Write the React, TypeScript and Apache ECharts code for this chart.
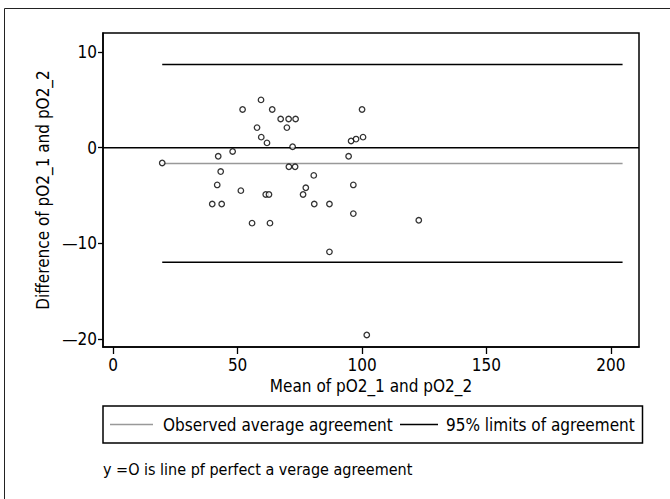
import React, { useEffect, useRef } from "react";
import * as echarts from "echarts";

// Bland-Altman data: mean of the two measurements and their difference
const meanValues = [
  19.7, 52.0, 59.4, 63.9, 67.3, 70.5, 73.3, 57.8, 69.8, 59.5,
  61.8, 72.1, 48.0, 42.2, 70.6, 73.1, 43.2, 80.6, 41.8, 77.4,
  51.3, 61.3, 62.6, 76.3, 39.8, 43.6, 80.8, 86.9, 55.8, 63.0,
  86.9, 100.0, 95.6, 97.6, 100.4, 94.6, 96.5, 96.5, 122.8, 101.9,
];
const diffValues = [
  -1.6, 4.0, 5.0, 4.0, 3.0, 3.0, 3.0, 2.1, 2.1, 1.1,
  0.5, 0.1, -0.4, -0.9, -2.0, -2.0, -2.5, -2.9, -3.9, -4.2,
  -4.5, -4.9, -4.9, -4.9, -5.9, -5.9, -5.9, -5.9, -7.9, -7.9,
  -10.9, 4.0, 0.7, 0.9, 1.1, -0.9, -3.9, -6.9, -7.6, -19.6,
];

const xTicks = [0, 50, 100, 150, 200];
const yTicks = [-20, -10, 0, 10];
const xRange = [-4.1, 211.3];
const yRange = [-20.86, 12.0];

const averageDiff = -1.65;
const upperLimit = 8.7;
const lowerLimit = -12.0;
const limitStart = 19.7;
const limitEnd = 204.7;

const xTitle = "Mean of pO2_1 and pO2_2";
const yTitle = "Difference of pO2_1 and pO2_2";
const legendLabels = ["Observed average agreement", "95% limits of agreement"];
const note = "y =O is line pf perfect a verage agreement";

const FONT = "'Liberation Sans Narrow', 'DejaVu Sans Condensed', 'Arial Narrow', sans-serif";
const FS = 17;

export default function App() {
  const ref = useRef<HTMLDivElement>(null);

  useEffect(() => {
    if (!ref.current) return;
    const chart = echarts.init(ref.current, null, { renderer: "svg" });
    const hLine = (name: string, y: number, x0: number, x1: number, color: string) => ({
      name,
      type: "line",
      data: [
        [x0, y],
        [x1, y],
      ],
      symbol: "none",
      silent: true,
      lineStyle: { color, width: 1.5 },
      z: 3,
    });
    chart.setOption({
      animation: false,
      backgroundColor: "#fff",
      textStyle: { fontFamily: FONT },
      grid: {
        left: 103,
        right: 31,
        top: 33,
        bottom: 152,
        show: true,
        borderColor: "#000",
        borderWidth: 1.5,
        containLabel: false,
      },
      xAxis: {
        type: "value",
        min: xRange[0],
        max: xRange[1],
        name: xTitle,
        nameLocation: "middle",
        nameGap: 26,
        nameTextStyle: { fontFamily: FONT, fontSize: FS, color: "#000" },
        axisLine: { show: true, onZero: false, lineStyle: { color: "#000", width: 1.5 } },
        axisTick: { show: true, length: 7, lineStyle: { color: "#000", width: 1.3 }, customValues: xTicks },
        axisLabel: { fontFamily: FONT, fontSize: FS, color: "#000", margin: 9, customValues: xTicks },
        splitLine: { show: false },
      },
      yAxis: {
        type: "value",
        min: yRange[0],
        max: yRange[1],
        name: yTitle,
        nameLocation: "middle",
        nameGap: 45,
        nameTextStyle: { fontFamily: FONT, fontSize: FS, color: "#000" },
        axisLine: { show: true, onZero: false, lineStyle: { color: "#000", width: 1.5 } },
        axisTick: { show: true, length: 5, lineStyle: { color: "#000", width: 1.3 }, customValues: yTicks },
        axisLabel: {
          fontFamily: FONT,
          fontSize: FS,
          color: "#000",
          margin: 6,
          customValues: yTicks,
          formatter: (v: number) => (v < 0 ? "\u2014" + Math.abs(v) : String(v)),
        },
        splitLine: { show: false },
      },
      series: [
        hLine("zero", 0, xRange[0], xRange[1], "#000"),
        hLine(legendLabels[0], averageDiff, limitStart, limitEnd, "#999"),
        hLine(legendLabels[1], upperLimit, limitStart, limitEnd, "#000"),
        hLine("lower", lowerLimit, limitStart, limitEnd, "#000"),
        {
          type: "scatter",
          data: meanValues.map((m, i) => [m, diffValues[i]]),
          symbol: "circle",
          symbolSize: 5.5,
          itemStyle: { color: "#fff", borderColor: "#000", borderWidth: 1.3 },
          z: 5,
        },
      ],
      graphic: [
        {
          type: "rect",
          shape: { x: 4.5, y: 8.5, width: 720, height: 620 },
          style: { fill: "none", stroke: "#222", lineWidth: 1 },
          silent: true,
        },
        {
          type: "rect",
          shape: { x: 103, y: 406, width: 539.5, height: 37 },
          style: { fill: "none", stroke: "#000", lineWidth: 1.5 },
          silent: true,
        },
        {
          type: "line",
          shape: { x1: 110, y1: 424.5, x2: 153, y2: 424.5 },
          style: { stroke: "#999", lineWidth: 1.5 },
        },
        {
          type: "text",
          x: 163,
          y: 424.5,
          style: { text: legendLabels[0], font: `${FS}px ${FONT}`, fill: "#000", verticalAlign: "middle" },
        },
        {
          type: "line",
          shape: { x1: 400, y1: 424.5, x2: 438, y2: 424.5 },
          style: { stroke: "#000", lineWidth: 1.5 },
        },
        {
          type: "text",
          x: 446,
          y: 424.5,
          style: { text: legendLabels[1], font: `${FS}px ${FONT}`, fill: "#000", verticalAlign: "middle" },
        },
        {
          type: "text",
          x: 103,
          y: 469,
          style: { text: note, font: `${FS - 1}px ${FONT}`, fill: "#000", verticalAlign: "middle" },
        },
      ],
    });
    return () => chart.dispose();
  }, []);

  return (
    <div
      ref={ref}
      style={{ position: "fixed", left: 0, top: 0, width: 670, height: 499, background: "#fff" }}
    />
  );
}
